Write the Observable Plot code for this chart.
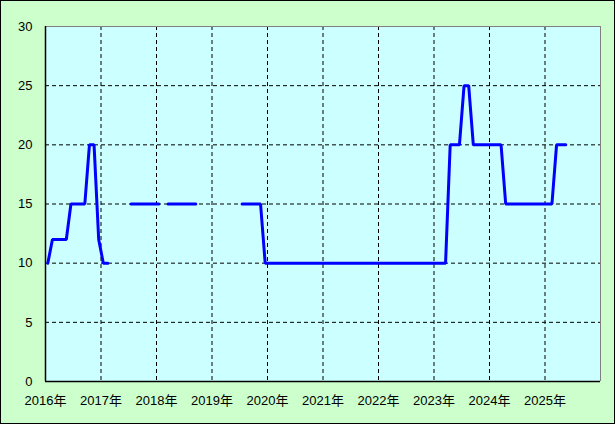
<!DOCTYPE html>
<html>
<head>
<meta charset="utf-8">
<script src="https://cdn.jsdelivr.net/npm/d3@7"></script>
<script src="https://cdn.jsdelivr.net/npm/@observablehq/plot@0.6"></script>
<style>
  html, body { margin: 0; padding: 0; background: #fff; }
  #chart svg { display: block; outline: 1px solid #000; outline-offset: -1px; }
</style>
</head>
<body>
<div id="chart"></div>
<script>
// Monthly series starting January 2016 (null = no data)
const startYear = 2016;
const values = [
  10, 12, 12, 12, 12, 15, 15, 15, 15, 20, 20, 12,            // 2016
  10, 10, null, null, null, null, 15, 15, 15, 15, 15, 15,    // 2017
  15, null, 15, 15, 15, 15, 15, 15, 15, null, null, null,    // 2018
  null, null, null, null, null, null, 15, 15, 15, 15, 15, 10,// 2019
  10, 10, 10, 10, 10, 10, 10, 10, 10, 10, 10, 10,            // 2020
  10, 10, 10, 10, 10, 10, 10, 10, 10, 10, 10, 10,            // 2021
  10, 10, 10, 10, 10, 10, 10, 10, 10, 10, 10, 10,            // 2022
  10, 10, 10, 20, 20, 20, 25, 25, 20, 20, 20, 20,            // 2023
  20, 20, 20, 15, 15, 15, 15, 15, 15, 15, 15, 15,            // 2024
  15, 15, 20, 20, 20                                         // 2025
];
const yearTicks = [2016, 2017, 2018, 2019, 2020, 2021, 2022, 2023, 2024, 2025];
const yTicks = [0, 5, 10, 15, 20, 25, 30];
const xDomain = [2016, 2026];
const yDomain = [0, 30];

const data = values.map((v, i) => ({
  t: startYear + Math.floor(i / 12) + ((i % 12) + 0.5) / 12,
  v: v
}));

const chart = Plot.plot({
  width: 615,
  height: 424,
  marginLeft: 45,
  marginTop: 26,
  marginRight: 15,
  marginBottom: 43,
  style: {
    background: "#ccffcc",
    fontFamily: "'Liberation Sans','Noto Sans CJK JP',sans-serif",
    fontSize: "13px",
    color: "#000"
  },
  x: { type: "linear", domain: xDomain },
  y: { domain: yDomain },
  marks: [
    Plot.frame({ fill: "#ccffff", stroke: null }),
    Plot.ruleX(yearTicks.slice(1), { stroke: "#000", strokeDasharray: "4,3", strokeWidth: 1 }),
    Plot.ruleY(yTicks.slice(1, -1), { stroke: "#000", strokeDasharray: "4,3", strokeWidth: 1 }),
    Plot.ruleY([yDomain[1]], { stroke: "#808080", strokeWidth: 1 }),
    Plot.ruleX([xDomain[1]], { stroke: "#808080", strokeWidth: 1 }),
    Plot.ruleX([xDomain[0]], { stroke: "#000", strokeWidth: 1.5 }),
    Plot.ruleY([yDomain[0]], { stroke: "#000", strokeWidth: 1.5 }),
    Plot.line(data, { x: "t", y: "v", stroke: "#0000ff", strokeWidth: 3, strokeLinejoin: "miter" }),
    Plot.axisY({ ticks: yTicks, tickSize: 0, tickPadding: 13, label: null }),
    Plot.axisX({ ticks: yearTicks, tickFormat: d => d + "年", tickSize: 0, tickPadding: 14, label: null })
  ]
});
document.getElementById("chart").append(chart);
</script>
</body>
</html>
